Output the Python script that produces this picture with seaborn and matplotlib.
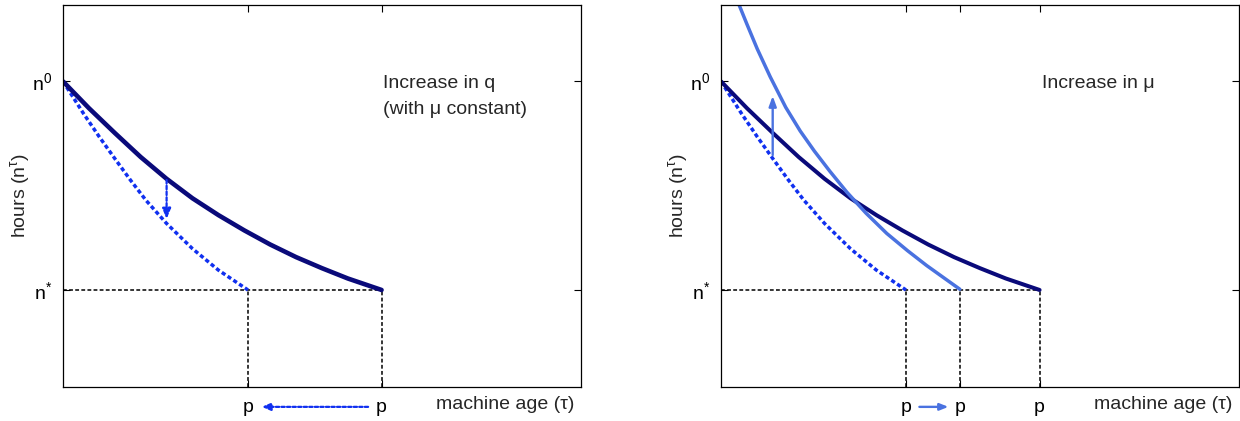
import numpy as np
import pandas as pd
import matplotlib
matplotlib.use("Agg")
import matplotlib.pyplot as plt
import seaborn as sns

# values (axes run 0..1 on both scales)
n0 = 0.80
n_star = 0.254
p_old = 0.615      # original scrapping age
p_q = 0.357        # after increase in q
p_mu = 0.461       # after increase in mu

# baseline hours profile (solid navy)
base_x = [0.00, 0.05, 0.10, 0.15, 0.20, 0.25, 0.30, 0.35, 0.40, 0.45, 0.50, 0.55, 0.615]
base_y = [0.800, 0.730, 0.665, 0.602, 0.545, 0.494, 0.450, 0.410, 0.373, 0.340, 0.311, 0.284, 0.254]

# profile after increase in q (dotted blue)
q_x = [0.00, 0.04, 0.07, 0.10, 0.13, 0.16, 0.20, 0.25, 0.30, 0.357]
q_y = [0.800, 0.715, 0.655, 0.598, 0.542, 0.489, 0.428, 0.362, 0.306, 0.254]

# profile after increase in mu (light blue)
mu_x = [0.035, 0.05, 0.07, 0.095, 0.125, 0.153, 0.18, 0.21, 0.243, 0.28, 0.32, 0.36, 0.397, 0.43, 0.461]
mu_y = [1.00, 0.950, 0.885, 0.812, 0.732, 0.670, 0.618, 0.565, 0.510, 0.455, 0.402, 0.357, 0.318, 0.286, 0.256]

NAVY = "#0a0a7a"
BLUE = "#1030f0"
LIGHT = "#4a72e0"

sns.set_style("ticks")
plt.rcParams["font.family"] = ["Liberation Sans", "DejaVu Sans"]
plt.rcParams["mathtext.fontset"] = "custom"
plt.rcParams["mathtext.rm"] = "Liberation Sans"
plt.rcParams["mathtext.it"] = "Liberation Sans"
FS = 14

fig = plt.figure(figsize=(12.4, 4.21), dpi=100)
axL = fig.add_axes([63 / 1240, 34 / 421, 518 / 1240, 382 / 421])
axR = fig.add_axes([721 / 1240, 34 / 421, 518 / 1240, 382 / 421])

dotted = (0, (1.2, 0.8))
guide = (0, (2.5, 1.5))


def setup(ax, p_list):
    ax.set_xlim(0, 1)
    ax.set_ylim(0, 1)
    # guide lines at n* and the scrapping ages
    ax.hlines(n_star, 0, max(p_list), colors="black", linestyles=guide, linewidth=1.1)
    ax.vlines(p_list, 0, n_star, colors="black", linestyles=guide, linewidth=1.1)
    ax.set_xticks(p_list)
    ax.set_xticklabels(["p"] * len(p_list))
    ax.set_yticks([n_star, n0])
    ax.set_yticklabels([r"n$^{*}$", r"n$^{0}$"])
    ax.tick_params(direction="in", top=True, right=True, length=5, width=0.8,
                   labelsize=FS, colors="black")
    ax.tick_params(axis="x", pad=9)
    ax.tick_params(axis="y", pad=8)
    for s in ax.spines.values():
        s.set_linewidth(0.9)
        s.set_color("black")
    ax.set_xlabel("")
    ax.set_ylabel(r"hours (n$^{\mathrm{τ}}$)", fontsize=FS)
    ax.yaxis.set_label_coords(-0.06, 0.5)
    ax.text(0.987, -0.047, "machine age (τ)", transform=ax.transAxes,
            ha="right", va="center", fontsize=FS)


# left panel: increase in q
setup(axL, [p_q, p_old])
sns.lineplot(x=q_x, y=q_y, ax=axL, color=BLUE, linewidth=2.5, linestyle=dotted,
             sort=False, estimator=None)
sns.lineplot(x=base_x, y=base_y, ax=axL, color=NAVY, linewidth=3.3,
             sort=False, estimator=None)
axL.annotate("", xy=(0.2, 0.44), xytext=(0.2, 0.542),
             arrowprops=dict(arrowstyle="-|>,head_length=0.6,head_width=0.25",
                             color=BLUE, lw=1.6, linestyle=(0, (1.6, 1)),
                             shrinkA=0, shrinkB=0))
axL.annotate("", xy=(0.384, -0.052), xytext=(0.589, -0.052), xycoords="data",
             annotation_clip=False,
             arrowprops=dict(arrowstyle="-|>,head_length=0.5,head_width=0.22",
                             color=BLUE, lw=1.6, linestyle=(0, (1.5, 1)),
                             shrinkA=0, shrinkB=0))
axL.text(0.617, 0.782, "Increase in q", fontsize=FS, va="baseline", ha="left")
axL.text(0.617, 0.715, "(with μ constant)", fontsize=FS, va="baseline", ha="left")

# right panel: increase in mu
setup(axR, [p_q, p_mu, p_old])
sns.lineplot(x=q_x, y=q_y, ax=axR, color=BLUE, linewidth=2.5, linestyle=dotted,
             sort=False, estimator=None)
sns.lineplot(x=base_x, y=base_y, ax=axR, color=NAVY, linewidth=2.9,
             sort=False, estimator=None)
sns.lineplot(x=mu_x, y=mu_y, ax=axR, color=LIGHT, linewidth=2.5,
             sort=False, estimator=None)
axR.annotate("", xy=(0.0998, 0.762), xytext=(0.0998, 0.607),
             arrowprops=dict(arrowstyle="-|>,head_length=0.6,head_width=0.22",
                             color=LIGHT, lw=1.7, shrinkA=0, shrinkB=0))
axR.annotate("", xy=(0.439, -0.052), xytext=(0.383, -0.052),
             annotation_clip=False,
             arrowprops=dict(arrowstyle="-|>,head_length=0.5,head_width=0.2",
                             color=LIGHT, lw=1.7, shrinkA=0, shrinkB=0))
axR.text(0.619, 0.782, "Increase in μ", fontsize=FS, va="baseline", ha="left")

fig.savefig("out.png", dpi=100)
